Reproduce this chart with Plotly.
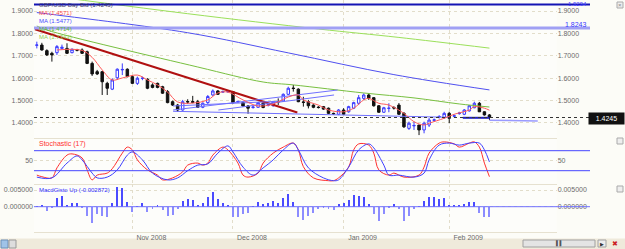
import plotly.graph_objects as go
from plotly.subplots import make_subplots

# ---------------- data ----------------
bars = list(range(91))
month_pos = [-0.5, 19, 39, 61, 82]
month_labels = ["", "Nov 2008", "Dec 2008", "Jan 2009", "Feb 2009"]

opens = [1.747, 1.748, 1.723, 1.711, 1.714, 1.733, 1.733, 1.714, 1.727, 1.726,
         1.718, 1.666, 1.629, 1.629, 1.577, 1.551, 1.602, 1.637, 1.640, 1.607,
         1.577, 1.599, 1.595, 1.570, 1.577, 1.562, 1.540, 1.495, 1.480, 1.458,
         1.496, 1.496, 1.495, 1.470, 1.491, 1.525, 1.543, 1.538, 1.539, 1.540,
         1.494, 1.491, 1.476, 1.469, 1.470, 1.488, 1.479, 1.477, 1.496, 1.498,
         1.528, 1.556, 1.551, 1.494, 1.495, 1.480, 1.471, 1.473, 1.466, 1.443,
         1.439, 1.458, 1.450, 1.466, 1.488, 1.510, 1.525, 1.513, 1.477, 1.448,
         1.465, 1.469, 1.480, 1.443, 1.376, 1.387, 1.391, 1.369, 1.391, 1.412,
         1.427, 1.424, 1.443, 1.430, 1.442, 1.439, 1.454, 1.468, 1.488, 1.450,
         1.436]
highs = [1.763, 1.758, 1.729, 1.718, 1.748, 1.750, 1.756, 1.733, 1.731, 1.733,
         1.723, 1.674, 1.637, 1.630, 1.584, 1.599, 1.644, 1.666, 1.644, 1.614,
         1.607, 1.607, 1.600, 1.577, 1.580, 1.566, 1.547, 1.500, 1.485, 1.503,
         1.506, 1.521, 1.503, 1.492, 1.525, 1.550, 1.547, 1.545, 1.546, 1.541,
         1.500, 1.494, 1.480, 1.476, 1.494, 1.495, 1.487, 1.499, 1.510, 1.532,
         1.562, 1.570, 1.555, 1.517, 1.503, 1.483, 1.475, 1.476, 1.469, 1.446,
         1.462, 1.466, 1.477, 1.495, 1.525, 1.532, 1.532, 1.516, 1.480, 1.472,
         1.488, 1.475, 1.489, 1.449, 1.406, 1.406, 1.391, 1.406, 1.422, 1.420,
         1.435, 1.450, 1.450, 1.438, 1.450, 1.462, 1.480, 1.495, 1.494, 1.452,
         1.440]
lows = [1.733, 1.723, 1.699, 1.674, 1.704, 1.728, 1.708, 1.711, 1.720, 1.708,
        1.663, 1.610, 1.614, 1.525, 1.525, 1.547, 1.592, 1.614, 1.604, 1.574,
        1.570, 1.591, 1.551, 1.555, 1.555, 1.530, 1.488, 1.476, 1.450, 1.455,
        1.485, 1.488, 1.467, 1.466, 1.485, 1.521, 1.525, 1.535, 1.535, 1.485,
        1.490, 1.473, 1.441, 1.464, 1.467, 1.466, 1.474, 1.473, 1.480, 1.494,
        1.525, 1.540, 1.493, 1.473, 1.465, 1.466, 1.465, 1.459, 1.440, 1.436,
        1.435, 1.436, 1.446, 1.462, 1.480, 1.503, 1.503, 1.473, 1.445, 1.445,
        1.448, 1.460, 1.436, 1.378, 1.369, 1.369, 1.346, 1.354, 1.382, 1.405,
        1.420, 1.418, 1.399, 1.425, 1.437, 1.435, 1.451, 1.466, 1.449, 1.433,
        1.413]
closes = [1.748, 1.726, 1.704, 1.704, 1.741, 1.738, 1.711, 1.729, 1.725, 1.711,
          1.666, 1.619, 1.619, 1.584, 1.555, 1.592, 1.640, 1.639, 1.607, 1.577,
          1.600, 1.600, 1.555, 1.559, 1.559, 1.533, 1.491, 1.480, 1.458, 1.495,
          1.494, 1.492, 1.470, 1.488, 1.518, 1.543, 1.528, 1.540, 1.541, 1.491,
          1.496, 1.476, 1.466, 1.471, 1.491, 1.469, 1.481, 1.495, 1.494, 1.528,
          1.555, 1.554, 1.495, 1.492, 1.477, 1.470, 1.469, 1.462, 1.443, 1.441,
          1.458, 1.439, 1.473, 1.491, 1.513, 1.525, 1.510, 1.477, 1.448, 1.468,
          1.466, 1.467, 1.439, 1.383, 1.399, 1.389, 1.369, 1.399, 1.413, 1.414,
          1.429, 1.443, 1.421, 1.432, 1.444, 1.458, 1.477, 1.488, 1.450, 1.436,
          1.4245]

# moving averages read at selected bars
ma_red_x = [4, 9, 11, 13, 15, 17, 20, 22, 24, 26, 28, 31, 34, 36, 38, 41, 44, 47, 50, 52,
            53, 56, 58, 61, 63, 65, 66, 68, 70, 73, 75, 77, 78, 81, 83, 86, 87, 89, 90]
ma_red_y = [1.726, 1.724, 1.693, 1.637, 1.592, 1.601, 1.614, 1.592, 1.570, 1.538, 1.494,
            1.489, 1.503, 1.534, 1.538, 1.503, 1.476, 1.485, 1.516, 1.525, 1.503, 1.480,
            1.458, 1.450, 1.466, 1.503, 1.510, 1.488, 1.480, 1.443, 1.406, 1.391, 1.399,
            1.421, 1.439, 1.458, 1.473, 1.466, 1.4571]
ma_blue_x = [0, 4, 30, 50, 71, 90]
ma_blue_y = [1.893, 1.882, 1.803, 1.713, 1.616, 1.5477]
ma_green_x = [0, 2, 32, 45, 51, 65, 75, 84, 90]
ma_green_y = [1.833, 1.815, 1.650, 1.583, 1.570, 1.534, 1.512, 1.485, 1.4714]
ma_lime_x = [0, 30, 56, 72, 90]
ma_lime_y = [1.975, 1.888, 1.8196, 1.782, 1.7343]

# drawn lines
trend_red_x = [-0.37, 51.8]
trend_red_y = [1.8183, 1.4469]
chan_a_x = [27.1, 59.8]
chan_a_y = [1.4580, 1.5473]
chan_b_x = [27.1, 49.2]
chan_b_y = [1.4759, 1.4982]
chan_c_x = [27.1, 82.2]
chan_c_y = [1.4522, 1.4254]
chan_d_x = [36.1, 59.1]
chan_d_y = [1.4580, 1.5250]
chan_e_x = [84.7, 90.0]
chan_e_y = [1.4232, 1.4232]
chan_f_x = [90.0, 99.6]
chan_f_y = [1.4127, 1.4090]
hline_top = 1.9294
hline_mid = 1.8243
last_price = 1.4245

# stochastic
stk_x = [0, 1, 3, 4, 6, 7, 9, 10, 11, 12, 14, 15, 17, 18, 19, 20, 22, 24, 25, 27, 29, 30,
         32, 33, 34, 35, 37, 38, 40, 41, 42, 44, 45, 47, 49, 51, 52, 53, 55, 58, 59, 60,
         62, 63, 64, 66, 67, 68, 70, 71, 73, 76, 77, 78, 80, 81, 83, 84, 86, 87, 88, 89, 90]
stk_y = [14, 10, 7, 32, 64, 67, 57, 27, 2, 14, 19, 30, 69, 84, 77, 52, 27, 14, 2, 7, 22, 39,
         44, 39, 44, 64, 84, 77, 44, 14, 9, 19, 44, 69, 84, 94, 77, 35, 7, 0, 0, 7,
         34, 77, 92, 89, 69, 27, 14, 19, 9, 14, 34, 69, 94, 97, 92, 84, 94, 97, 84, 44, 10]
std_x = [0, 3, 6, 8, 9, 11, 12, 14, 16, 18, 19, 21, 23, 26, 28, 30, 32, 34, 36, 38, 39, 41,
         43, 45, 47, 49, 51, 52, 54, 57, 59, 60, 62, 64, 66, 67, 69, 70, 72, 75, 77, 78,
         80, 82, 84, 86, 88, 89, 90]
std_y = [9, 7, 44, 62, 52, 19, 7, 9, 27, 64, 72, 52, 19, 2, 7, 25, 39, 42, 69, 87, 72, 34,
         14, 32, 52, 77, 94, 77, 32, 7, 0, 2, 34, 77, 92, 82, 39, 14, 14, 9, 19, 52,
         89, 94, 89, 94, 94, 77, 47]

# MACD histogram
macd = [0.0002, 0.0003, -0.0012, -0.0005, 0.0025, 0.0032, 0.0005, 0.0010, 0.0010, -0.0004,
        -0.0028, -0.0048, -0.0022, -0.0028, -0.0030, 0.0012, 0.0060, 0.0055, 0.0015, -0.0015,
        0.0002, 0.0010, -0.0015, -0.0008, 0.0003, -0.0010, -0.0028, -0.0025, -0.0008, 0.0018,
        0.0023, 0.0020, 0.0005, 0.0010, 0.0030, 0.0045, 0.0022, 0.0010, 0.0005, -0.0030,
        -0.0030, -0.0022, -0.0018, 0.0001, 0.0015, 0.0007, 0.0010, 0.0018, 0.0010, 0.0025,
        0.0038, 0.0015, -0.0032, -0.0040, -0.0028, -0.0018, -0.0007, -0.0005, -0.0008, -0.0010,
        0.0008, 0.0012, 0.0020, 0.0035, 0.0032, 0.0030, 0.0008, -0.0022, -0.0043, -0.0022,
        -0.0005, 0.0008, -0.0008, -0.0042, -0.0028, -0.0006, 0.0001, 0.0018, 0.0028, 0.0028,
        0.0024, 0.0025, 0.0005, 0.0005, 0.0005, 0.0008, 0.0015, 0.0015, -0.0020, -0.0032,
        -0.0032]

price_ticks = [1.4, 1.5, 1.6, 1.7, 1.8, 1.9]
stoch_levels = [25, 75]

# ---------------- layout geometry ----------------
W, H = 625, 249
ML, MR, MT, MB = 34, 35, 0, 17
PW, PH = W - ML - MR, H - MT - MB

def px(x):
    return (x - ML) / PW

def py(y):
    return (PH - y) / PH

XR = [-0.56, 103.36]
PR = [1.3330, 1.9491]
SR = [-8.25, 106.75]
MR_ = [-0.00759, 0.00681]

GRID = "#e2ddca"
TXT = "#6b6b6b"
FONT = "Liberation Sans, Arial, sans-serif"

fig = make_subplots(rows=3, cols=1, shared_xaxes=True, vertical_spacing=0,
                    row_heights=[138, 46, 48],
                    specs=[[{"secondary_y": True}], [{"secondary_y": True}], [{"secondary_y": True}]])

fig.add_trace(go.Candlestick(
    x=bars, open=opens, high=highs, low=lows, close=closes,
    increasing=dict(line=dict(color="#3b3bff", width=1), fillcolor="#ffffff"),
    decreasing=dict(line=dict(color="#111111", width=1), fillcolor="#111111"),
    whiskerwidth=0, showlegend=False, hoverinfo="skip"), row=1, col=1, secondary_y=False)

def line(x, y, color, width=1, row=1, sec=True, shape="linear", dash="solid"):
    fig.add_trace(go.Scatter(x=x, y=y, mode="lines",
                             line=dict(color=color, width=width, shape=shape, dash=dash),
                             showlegend=False, hoverinfo="skip"),
                  row=row, col=1, secondary_y=sec)

line(ma_lime_x, ma_lime_y, "#9be05a", 1, shape="spline")
line(ma_blue_x, ma_blue_y, "#5050f0", 1, shape="spline")
line(ma_green_x, ma_green_y, "#78c040", 1, shape="spline")
line(trend_red_x, trend_red_y, "#b01010", 2)
for cx, cy in [(chan_a_x, chan_a_y), (chan_b_x, chan_b_y), (chan_c_x, chan_c_y), (chan_d_x, chan_d_y)]:
    line(cx, cy, "#7070ff", 1)
line(chan_e_x, chan_e_y, "#2020c0", 2)
line(chan_f_x, chan_f_y, "#9a9aff", 1.5)
line(ma_red_x, ma_red_y, "#ff5a5a", 1, shape="spline")

# stochastic
line(stk_x, stk_y, "#ff3030", 1, row=2, sec=False, shape="spline")
line(std_x, std_y, "#4040ff", 1, row=2, sec=True, shape="spline")

# macd histogram
fig.add_trace(go.Bar(x=bars, y=macd, width=0.19,
                     marker=dict(color=["#4b4bff" if v >= 0 else "#8c8cff" for v in macd], line=dict(width=0)),
                     showlegend=False, hoverinfo="skip"), row=3, col=1, secondary_y=False)
fig.add_trace(go.Scatter(x=[bars[0], bars[-1]], y=[0, 0], mode="lines", line=dict(width=0),
                         showlegend=False, hoverinfo="skip"), row=3, col=1, secondary_y=True)

# ---------------- axes ----------------
for xa in ["xaxis", "xaxis2", "xaxis3"]:
    fig.layout[xa].update(range=XR, tickvals=month_pos, ticktext=month_labels,
                          showgrid=True, gridcolor=GRID, griddash="dot", gridwidth=1,
                          zeroline=False, showline=True, linecolor="#e6e1d0", linewidth=1,
                          ticks="", showticklabels=(xa == "xaxis3"),
                          tickfont=dict(size=7, color=TXT, family=FONT),
                          ticklabelshift=19, ticklabelstandoff=-1,
                          rangeslider=dict(visible=False))

def yax(name, rng, tv, fmt, side, grid):
    fig.layout[name].update(range=rng, tickvals=tv, tickformat=fmt, side=side,
                            showgrid=grid, gridcolor=GRID, griddash="dot", gridwidth=1,
                            zeroline=False, showline=False, ticks="",
                            tickfont=dict(size=7, color=TXT, family=FONT))

yax("yaxis", PR, price_ticks, ".4f", "left", True)
yax("yaxis2", PR, price_ticks, ".4f", "right", False)
yax("yaxis3", SR, [50], "d", "left", True)
yax("yaxis4", SR, [50], "d", "right", False)
yax("yaxis5", MR_, [0, 0.005], ".6f", "left", True)
yax("yaxis6", MR_, [0, 0.005], ".6f", "right", False)

shapes = []
# horizontal drawn lines in price panel
shapes.append(dict(type="line", xref="paper", x0=0, x1=1, yref="y2", y0=hline_top, y1=hline_top,
                   line=dict(color="#1414b4", width=2)))
shapes.append(dict(type="line", xref="paper", x0=0, x1=1, yref="y2", y0=hline_mid, y1=hline_mid,
                   line=dict(color="#a0a0f4", width=3)))
shapes.append(dict(type="line", xref="paper", x0=0, x1=1, yref="y2", y0=last_price, y1=last_price,
                   line=dict(color="#333333", width=1, dash="dot")))
for lv in stoch_levels:
    shapes.append(dict(type="line", xref="paper", x0=0, x1=1, yref="y4", y0=lv, y1=lv,
                       line=dict(color="#4646ff", width=1)))
shapes.append(dict(type="line", xref="paper", x0=0, x1=1, yref="y6", y0=0, y1=0,
                   line=dict(color="#7070ff", width=1)))
# bottom scroll strip
shapes.append(dict(type="rect", xref="paper", yref="paper", x0=px(0), x1=px(W), y0=py(H), y1=py(238.5),
                   fillcolor="#efeadb", line=dict(width=0), layer="below"))
shapes.append(dict(type="rect", xref="paper", yref="paper", x0=px(523), x1=px(595), y0=py(247), y1=py(240),
                   fillcolor="#e4e4e4", line=dict(color="#a0a0a0", width=1)))
shapes.append(dict(type="rect", xref="paper", yref="paper", x0=px(598), x1=px(606), y0=py(247), y1=py(240),
                   fillcolor="#ececec", line=dict(color="#a0a0a0", width=1)))
shapes.append(dict(type="rect", xref="paper", yref="paper", x0=px(1), x1=px(8), y0=py(248), y1=py(240),
                   fillcolor="#9fc3e8", line=dict(color="#6a8fb8", width=1)))
shapes.append(dict(type="rect", xref="paper", yref="paper", x0=px(9), x1=px(16), y0=py(248), y1=py(240),
                   fillcolor="#dddddd", line=dict(color="#999999", width=1)))
# small close boxes at right
for yb in [2, 138, 186]:
    shapes.append(dict(type="rect", xref="paper", yref="paper", x0=px(617), x1=px(623), y0=py(yb + 6), y1=py(yb),
                       fillcolor="#eeeeee", line=dict(color="#aaaaaa", width=1)))
fig.update_layout(shapes=shapes)

ann = []
def label(text, x, y, color, size=6, xanchor="left", **kw):
    ann.append(dict(text=text, xref="paper", yref="paper", x=px(x), y=py(y), showarrow=False,
                    xanchor=xanchor, yanchor="middle", font=dict(size=size, color=color, family=FONT), **kw))

label("GBP/USD Day Bid (1.4245)", 37, 5, "#3a3a6a")
label("MA (1.4571)", 37, 13, "#ff5050")
label("MA (1.5477)", 37, 21, "#4a4aff")
label("MA (1.4714)", 37, 29, "#5cb82e")
label("MA (1.7343)", 37, 37, "#8fd14f")
label("1.9294", 589, 4.5, "#3a3aff", size=6, xanchor="right")
label("1.8243", 589, 24.5, "#3a3aff", size=7, xanchor="right")
label("1.4245", 588, 118.5, "#ffffff", size=7, bgcolor="#111111", width=33, height=9)
label("Stochastic (17)", 37, 144, "#ff3030", size=7)
label("MacdGisto Up (-0.002872)", 37, 190, "#3030ff", size=6)
label("\u258c\u258c", 559, 243.5, "#555555", size=5, xanchor="center")
label("\u25b6", 602, 243.5, "#333333", size=5, xanchor="center")
label("\u2716", 615, 243.5, "#cc2020", size=7, xanchor="center")
label("\u00d7", 620, 5, "#888888", size=6, xanchor="center")

fig.update_layout(annotations=ann, width=W, height=H,
                  margin=dict(l=ML, r=MR, t=MT, b=MB),
                  paper_bgcolor="#fcfcf7", plot_bgcolor="#fdfdfa",
                  showlegend=False, bargap=0, barmode="overlay",
                  font=dict(family=FONT, size=7, color=TXT))

fig.write_html("out.html")
